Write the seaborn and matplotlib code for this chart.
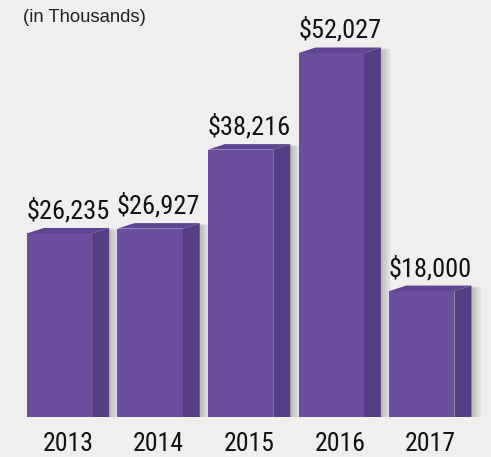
import matplotlib
matplotlib.use("Agg")
import pandas as pd
import seaborn as sns
import matplotlib.pyplot as plt
from matplotlib.patches import Polygon

years = ["2013", "2014", "2015", "2016", "2017"]
values = [26235, 26927, 38216, 52027, 18000]
value_labels = ["$26,235", "$26,927", "$38,216", "$52,027", "$18,000"]
note = "(in Thousands)"

df = pd.DataFrame({"year": years, "value": values})

bg = "#f0efed"
front = "#6a4f9f"
side = "#553d83"
top = "#5e4591"

sns.set_theme(style="white")
narrow = ["Roboto Condensed", "Liberation Sans Narrow", "Roboto", "DejaVu Sans"]
plt.rcParams["font.family"] = ["Liberation Sans", "DejaVu Sans"]

fig = plt.figure(figsize=(4.91, 4.57), dpi=100, facecolor=bg)
ax = fig.add_axes([0, 40 / 457, 1, 417 / 457])
ax.set_facecolor(bg)

sns.barplot(data=df, x="year", y="value", color=front, saturation=1,
            width=0.72, edgecolor="none", ax=ax, zorder=3)

ax.set_xlim(-0.657, 4.763)
ax.set_ylim(0, 59600)

# depth of the fake 3d box, in data units
dx = 17 / 90.6
dy = 5.5 / 0.0070

for p in ax.patches:
    x0 = p.get_x()
    w = p.get_width()
    h = p.get_height()
    x1 = x0 + w
    # soft shadow
    for k in range(6):
        off = 2 + k * 1.6
        ax.add_patch(Polygon([(x1, 0 - off * 140), (x1 + dx + off / 90.6, 0 - off * 140),
                              (x1 + dx + off / 90.6, h + dy - 40 * k),
                              (x1, h)],
                             closed=True, facecolor="#000000", alpha=0.035,
                             edgecolor="none", zorder=1))
        ax.add_patch(Polygon([(x0 + off / 90.6, -off * 143), (x1 + dx + off / 90.6, -off * 143),
                              (x1 + dx, 0), (x0, 0)],
                             closed=True, facecolor="#000000", alpha=0.035,
                             edgecolor="none", zorder=1))
    ax.add_patch(Polygon([(x1, 0), (x1 + dx, 0), (x1 + dx, h + dy), (x1, h)],
                         closed=True, facecolor=side, edgecolor="none", zorder=3))
    ax.add_patch(Polygon([(x0, h), (x1, h), (x1 + dx, h + dy), (x0 + dx, h + dy)],
                         closed=True, facecolor=top, edgecolor="none", zorder=3))

for i, p in enumerate(ax.patches[:len(values)]):
    cx = p.get_x() + (p.get_width() + dx) / 2
    ax.annotate(value_labels[i], (cx, p.get_height()), xytext=(0, 15),
                textcoords="offset pixels", ha="center", va="baseline",
                fontsize=19, family=narrow, color="#111111", zorder=5)

ax.set_xticks([i + dx / 2 for i in range(len(years))])
ax.set_xticklabels(years, fontsize=18.5, family=narrow, color="#111111")
ax.tick_params(axis="x", length=0, pad=10.5)
ax.set_yticks([])
ax.set_xlabel("")
ax.set_ylabel("")
for s in ax.spines.values():
    s.set_visible(False)

fig.text(23 / 491, 1 - 17 / 457, note, ha="left", va="center",
         fontsize=13.3, color="#222222")

fig.savefig("out.png", dpi=100, facecolor=bg)
